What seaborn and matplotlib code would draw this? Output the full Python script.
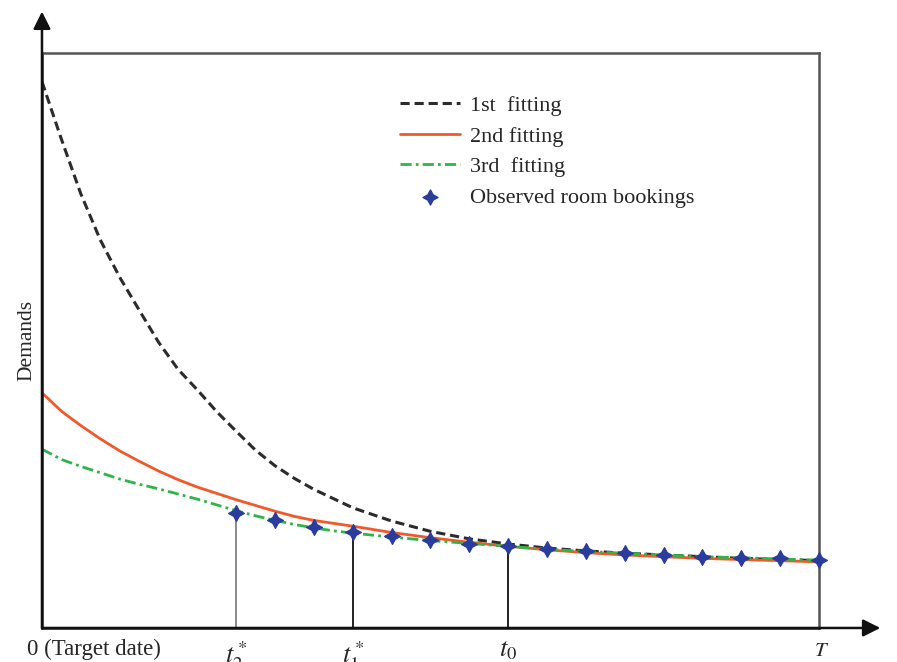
"""
Demand fitting chart: three fitted curves vs. observed room bookings
"""
import matplotlib
matplotlib.use("Agg")
import matplotlib.pyplot as plt
import seaborn as sns
import pandas as pd

# 先设样式，再设字体（set_style 会重置 font.family）
sns.set_style("white")
plt.rcParams["font.family"] = ["Liberation Serif", "DejaVu Serif"]
plt.rcParams["mathtext.fontset"] = "stix"

# ---- data (days before target date vs. demand) ----
curve_x = [0, 0.5, 1, 1.5, 2, 2.5, 3, 3.5, 4, 4.5, 5, 5.5, 6, 6.5, 7, 7.5, 8,
           9, 10, 11, 12, 13, 14, 15, 16, 17, 18, 19, 20]
fit1 = [95.0, 85.0, 75.5, 67.5, 61.0, 55.3, 49.7, 45.0, 41.4, 37.6, 34.2, 30.9,
        28.2, 26.0, 24.1, 22.5, 20.9, 18.6, 16.8, 15.5, 14.6, 13.9, 13.4, 13.0,
        12.7, 12.4, 12.1, 11.9, 11.7]
fit2 = [40.9, 37.7, 35.2, 32.9, 30.8, 29.0, 27.3, 25.8, 24.5, 23.4, 22.3, 21.3,
        20.3, 19.4, 18.7, 18.2, 17.7, 16.6, 15.7, 14.9, 14.2, 13.6, 13.1, 12.7,
        12.4, 12.1, 11.9, 11.7, 11.5]
fit3 = [31.1, 29.3, 28.1, 27.0, 25.9, 25.0, 24.2, 23.3, 22.4, 21.4, 20.4, 19.5,
        18.7, 18.0, 17.4, 16.9, 16.5, 15.8, 15.2, 14.7, 14.2, 13.7, 13.3, 13.0,
        12.7, 12.4, 12.2, 12.0, 11.8]

obs_x = [5, 6, 7, 8, 9, 10, 11, 12, 13, 14, 15, 16, 17, 18, 19, 20]
obs_y = [20.0, 18.8, 17.6, 16.7, 16.0, 15.3, 14.6, 14.2, 13.7, 13.3, 13.0, 12.7,
         12.4, 12.2, 12.1, 11.8]

# key time points: t2*, t1*, t0 (vertical drop lines), T at the right edge
key_x = [5, 8, 12]
key_labels = [r"$t_2^*$", r"$t_1^*$", r"$t_0$"]
key_colors = ["#8a8a8a", "#222222", "#222222"]
T = 20

labels = ["1st  fitting", "2nd fitting", "3rd  fitting", "Observed room bookings"]


def main():
    fig = plt.figure(figsize=(8.97, 6.62), dpi=100)
    ax = fig.add_axes([0.0468, 0.0514, 0.8662, 0.8686])

    df = pd.DataFrame({"x": curve_x, "f1": fit1, "f2": fit2, "f3": fit3})
    sns.lineplot(data=df, x="x", y="f1", ax=ax, color="#2b2b2b", lw=2.2,
                 linestyle=(0, (3.0, 1.6)), label=labels[0])
    sns.lineplot(data=df, x="x", y="f2", ax=ax, color="#f2582a", lw=2.0,
                 label=labels[1])
    sns.lineplot(data=df, x="x", y="f3", ax=ax, color="#2fb44a", lw=2.0,
                 linestyle=(0, (4, 1.5, 1, 1.5)), label=labels[2])

    # vertical drop lines at the key times
    for xv, c in zip(key_x, key_colors):
        yv = obs_y[obs_x.index(xv)]
        ax.plot([xv, xv], [0, yv], color=c, lw=1.4, zorder=2)

    sns.scatterplot(x=obs_x, y=obs_y, ax=ax, marker=(4, 1, 0), s=130,
                    color="#2a3c9c", edgecolor="#2a3c9c", linewidth=0.9,
                    zorder=5, clip_on=False, label=labels[3])

    ax.set_xlim(0, T)
    ax.set_ylim(0, 100)
    ax.set_xticks([])
    ax.set_yticks([])
    ax.set_xlabel("")
    ax.set_ylabel("Demands", fontsize=15.5, labelpad=4)

    for side in ["top", "right"]:
        ax.spines[side].set_color("#555555")
        ax.spines[side].set_linewidth(1.8)
    for side in ["left", "bottom"]:
        ax.spines[side].set_color("#222222")
        ax.spines[side].set_linewidth(1.8)

    # axis arrows
    arrow = dict(arrowstyle="-|>", color="#111111", lw=1.8,
                 mutation_scale=26, shrinkA=0, shrinkB=0)
    ax.annotate("", xy=(0, 1.072), xytext=(0, 0), xycoords="axes fraction",
                arrowprops=arrow, annotation_clip=False)
    ax.annotate("", xy=(1.079, 0), xytext=(0, 0), xycoords="axes fraction",
                arrowprops=arrow, annotation_clip=False)

    # labels below the time axis
    xt = ax.get_xaxis_transform()
    ax.text(-0.019, -0.047, "0 (Target date)", transform=ax.transAxes,
            ha="left", va="baseline", fontsize=16.5)
    for xv, lab in zip(key_x, key_labels):
        ax.text(xv, -0.02, lab, transform=xt, ha="center", va="top", fontsize=19)
    ax.text(T + 0.08, -0.024, r"$T$", transform=xt, ha="center", va="top",
            fontsize=15)
    ax.text(1.1, -0.03, "(", transform=ax.transAxes, ha="left", va="top",
            fontsize=15)

    leg = ax.legend(loc="upper left", bbox_to_anchor=(0.461, 0.926),
                    frameon=False, fontsize=16, handlelength=2.7,
                    handletextpad=0.45, labelspacing=0.45, borderpad=0,
                    borderaxespad=0)
    leg.legend_handles[3].set_sizes([120])

    fig.savefig("out.png", dpi=100)
    plt.close(fig)


if __name__ == "__main__":
    main()
